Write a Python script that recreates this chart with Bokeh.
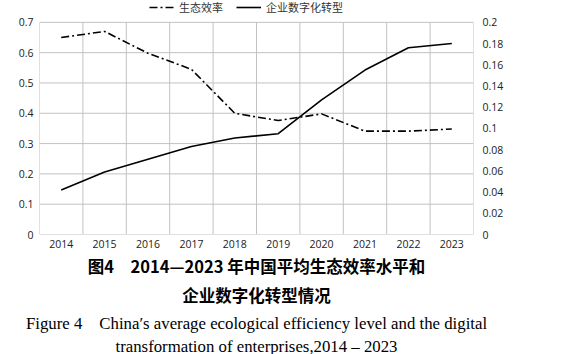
from bokeh.plotting import figure
from bokeh.models import (Range1d, LinearAxis, FixedTicker, CustomJSTickFormatter,
                          Legend, LegendItem, Title)
from bokeh.embed import file_html
from bokeh.resources import INLINE
import numpy as np

years = ["2014", "2015", "2016", "2017", "2018", "2019", "2020", "2021", "2022", "2023"]
eco_eff = [0.650, 0.670, 0.598, 0.545, 0.400, 0.376, 0.398, 0.341, 0.341, 0.348]
digital = [0.042, 0.059, 0.071, 0.083, 0.091, 0.095, 0.127, 0.155, 0.176, 0.180]
left_ticks = [0, 0.1, 0.2, 0.3, 0.4, 0.5, 0.6, 0.7]
right_ticks = [0, 0.02, 0.04, 0.06, 0.08, 0.1, 0.12, 0.14, 0.16, 0.18, 0.2]
legend_labels = ["生态效率", "企业数字化转型"]
caption_cn1 = "图4　2014—2023 年中国平均生态效率水平和"
caption_cn2 = "企业数字化转型情况"
caption_en1 = "Figure 4　China′s average ecological efficiency level and the digital"
caption_en2 = "transformation of enterprises,2014 – 2023"

n = len(years)
x = np.arange(n) + 0.5
left_max = left_ticks[-1]
right_max = right_ticks[-1]
head = 1.103  # extra room above the plot area for the legend

p = figure(width=563, height=354, output_backend="svg", toolbar_location=None,
           x_range=Range1d(0, n), y_range=Range1d(0, left_max * head),
           min_border_left=39, min_border_right=90, min_border_top=0, min_border_bottom=0)
p.extra_y_ranges = {"r": Range1d(0, right_max * head)}

fmt = CustomJSTickFormatter(code="return String(parseFloat(tick.toFixed(2)));")
tick_font = "Open Sans"

p.xaxis.ticker = FixedTicker(ticks=list(x))
p.xaxis.major_label_overrides = {float(v): y for v, y in zip(x, years)}
p.yaxis.ticker = FixedTicker(ticks=left_ticks)
p.yaxis.formatter = fmt

ra = LinearAxis(y_range_name="r", ticker=FixedTicker(ticks=right_ticks), formatter=fmt)
p.add_layout(ra, "right")

for ax in p.axis:
    ax.axis_line_color = None
    ax.major_tick_line_color = None
    ax.minor_tick_line_color = None
    ax.major_tick_out = 0
    ax.major_tick_in = 0
    ax.minor_tick_out = 0
    ax.major_label_text_font = tick_font
    ax.major_label_text_font_size = "10.5px"
    ax.major_label_text_color = "#222222"
    ax.major_label_standoff = 6
p.xaxis.major_label_standoff = 5
ra.major_label_standoff = 9

grid_color = "#c2c2c2"
p.xgrid.visible = False
p.ygrid.visible = False
p.outline_line_color = None
# grid drawn as plain lines over the value area only
for b in range(n + 1):
    p.line([b, b], [0, left_max], line_color=grid_color, line_width=1)
for t in left_ticks:
    p.line([0, n], [t, t], line_color=grid_color, line_width=1)

r1 = p.line(x, eco_eff, line_color="black", line_width=1.6, line_dash="8 3 2 3")
r2 = p.line(x, digital, line_color="black", line_width=1.6, y_range_name="r")

legend = Legend(items=[LegendItem(label=legend_labels[0], renderers=[r1]),
                       LegendItem(label=legend_labels[1], renderers=[r2])],
                orientation="horizontal", location=(110, 219),
                label_text_font="Noto Sans CJK SC", label_text_font_size="11px",
                label_text_color="#333333", border_line_color=None,
                padding=0, margin=0, spacing=13, glyph_width=25, glyph_height=12,
                label_height=12, label_standoff=5, background_fill_alpha=0)
p.add_layout(legend, "center")

cap_specs = [
    (caption_cn1, "Noto Sans CJK SC", "bold", "16.5px", 2),
    (caption_cn2, "Noto Sans CJK SC", "bold", "16.5px", 4),
    (caption_en1, "Liberation Serif", "normal", "16.8px", 6),
    (caption_en2, "Liberation Serif", "normal", "16.8px", -2),
]
for txt, font, style, size, so in cap_specs:
    t = Title(text=txt, align="center", text_font=font, text_font_style=style,
              text_font_size=size, text_color="black", offset=3, standoff=so)
    p.add_layout(t, "below")

open("out.html", "w").write(file_html(p, INLINE))
